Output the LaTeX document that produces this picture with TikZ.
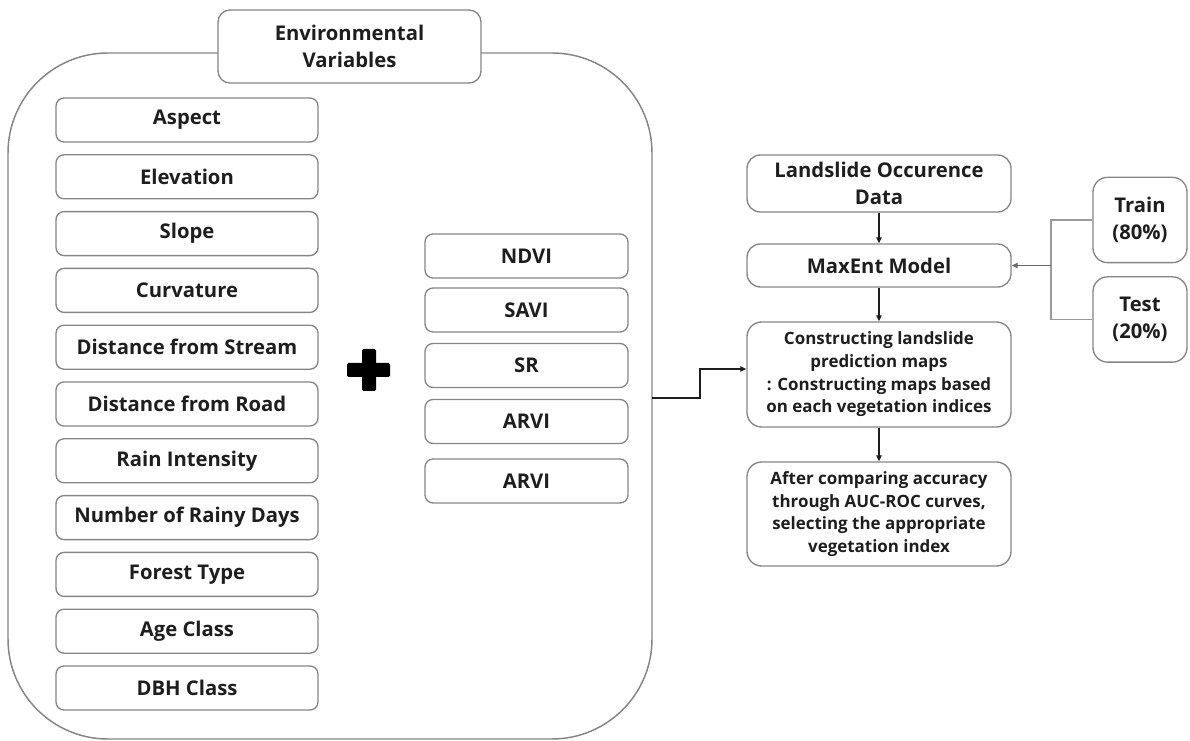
\documentclass[tikz,border=0pt]{standalone}
\usepackage{fontspec}
\setmainfont{Open Sans}
\usetikzlibrary{arrows.meta,positioning,calc}
\definecolor{edgegray}{HTML}{858585}
\definecolor{linkgray}{HTML}{9A9A9A}
\definecolor{inkdark}{HTML}{1E1E1E}

\begin{document}
\begin{tikzpicture}[x=0.75pt,y=-0.75pt,
  varbox/.style={draw=edgegray,line width=1pt,rounded corners=6pt,inner sep=0pt,
    minimum width=196.5pt,minimum height=33pt,font=\bfseries\fontsize{15.2}{20}\selectfont,text=inkdark},
  idxbox/.style={varbox,minimum width=152.25pt},
  flowbox/.style={draw=edgegray,line width=1pt,rounded corners=10pt,inner sep=0pt,align=center,
    minimum width=198pt,text=inkdark,font=\bfseries\fontsize{15.2}{20.5}\selectfont},
  smallflow/.style={flowbox,font=\bfseries\fontsize{12.7}{17}\selectfont},
  splitbox/.style={flowbox,minimum width=70.5pt,minimum height=64pt,rounded corners=11pt},
  arr/.style={-{Triangle[length=4.5pt,width=4pt]},line width=0.9pt,inkdark},
  graylink/.style={line width=0.9pt,linkgray}]
\useasboundingbox (0,0) rectangle (1190,741);

% container around the environmental variables
\draw[edgegray,line width=1.1pt,rounded corners=75pt] (218,53) -- (8,53) -- (8,739) -- (652,739) -- (652,53) -- (481,53);
\node[flowbox,minimum width=197.25pt,minimum height=54.75pt,rounded corners=9pt,fill=white] (env) at (349.5,46.5) {Environmental\\Variables};

% topographic / climate / forest variables
\foreach \name/\txt [count=\i from 0] in {asp/Aspect,elev/Elevation,slope/Slope,curv/Curvature,
  dstream/Distance from Stream,droad/Distance from Road,rain/Rain Intensity,
  rdays/Number of Rainy Days,ftype/Forest Type,age/Age Class,dbh/DBH Class}
  \node[varbox] (\name) at (187,120+56.8*\i) {\txt};

% plus sign
\fill[black,rounded corners=1pt] (347,363) rectangle (390,377);
\fill[black,rounded corners=1pt] (362,349) rectangle (376,391);

% vegetation indices
\node[idxbox] (ndvi) at (526.5,256) {NDVI};
\node[idxbox] (savi) at (526.5,310) {SAVI};
\node[idxbox] (sr) at (526.5,365.5) {SR};
\node[idxbox] (arvi) at (526.5,421.5) {ARVI};
\node[idxbox] (arvib) at (526.5,481) {ARVI};

% modelling flow
\node[flowbox,minimum height=42.75pt] (occ) at (879,183.5) {Landslide Occurence\\Data};
\node[flowbox,minimum height=32.25pt] (maxent) at (879,265.5) {MaxEnt Model};
\node[smallflow,minimum height=78.75pt,rounded corners=11pt] (construct) at (879,374.5) {Constructing landslide\\prediction maps\\: Constructing maps based\\on each vegetation indices};
\node[smallflow,minimum height=78pt,rounded corners=11pt] (select) at (879,514) {After comparing accuracy\\through AUC-ROC curves,\\selecting the appropriate\\vegetation index};

\node[splitbox] (train) at (1140,220) {Train\\(80\%)};
\node[splitbox] (test) at (1140,319.5) {Test\\(20\%)};

\coordinate (envout) at (652,398);
\coordinate (elbow) at (700,369);
\coordinate (split) at (1051,265.5);

\foreach \a/\b in {occ/maxent,maxent/construct,construct/select}{\draw[arr] (\a) -- (\b);}
\draw[arr] (envout) -- (elbow |- envout) -- (elbow) -- (elbow -| construct.west);
\draw[graylink] (train.west) -| (split) |- (test.west);
\draw[graylink,arr,linkgray!60!inkdark] (split) -- (maxent.east);
\end{tikzpicture}
\end{document}
